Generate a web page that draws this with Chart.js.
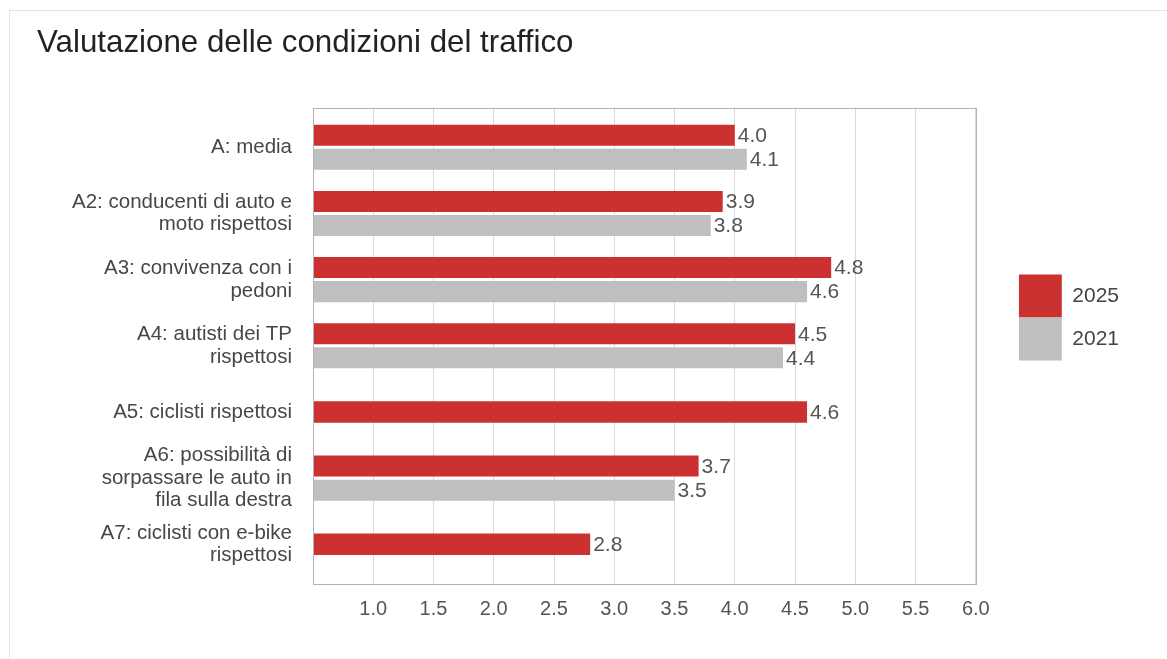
<!DOCTYPE html>
<html>
<head>
<meta charset="utf-8">
<script src="https://cdn.jsdelivr.net/npm/chart.js@4.4.1/dist/chart.umd.min.js"></script>
<style>
  html, body { margin: 0; padding: 0; background: #fff; }
  #wrap { position: relative; width: 1167px; height: 659px; overflow: hidden; }
  #frame { position: absolute; left: 9px; top: 10px; right: -5px; bottom: -5px;
           border-left: 1px solid #e4e4e4; border-top: 1px solid #e4e4e4; }
  canvas { position: absolute; left: 0; top: 0; }
</style>
</head>
<body>
<div id="wrap">
  <div id="frame"></div>
  <canvas id="chart"></canvas>
</div>
<script>
// categories, one array of lines per label
const categories = [
  ['A: media'],
  ['A2: conducenti di auto e', 'moto rispettosi'],
  ['A3: convivenza con i', 'pedoni'],
  ['A4: autisti dei TP', 'rispettosi'],
  ['A5: ciclisti rispettosi'],
  ['A6: possibilità di', 'sorpassare le auto in', 'fila sulla destra'],
  ['A7: ciclisti con e-bike', 'rispettosi']
];
const values2025 = [4.0, 3.9, 4.8, 4.5, 4.6, 3.7, 2.8];
const values2021 = [4.1, 3.8, 4.6, 4.4, null, 3.5, null];
const seriesLabels = ['2025', '2021'];

const FONT = "'Liberation Sans', Arial, Helvetica, sans-serif";

// draw value next to the end of each bar
const valueLabels = {
  id: 'valueLabels',
  afterDatasetsDraw(chart) {
    const ctx = chart.ctx;
    ctx.save();
    ctx.font = '21px ' + FONT;
    ctx.fillStyle = '#555555';
    ctx.textAlign = 'left';
    ctx.textBaseline = 'middle';
    chart.data.datasets.forEach((ds, i) => {
      const meta = chart.getDatasetMeta(i);
      meta.data.forEach((bar, j) => {
        const v = ds.data[j].x;
        if (v === null || v === undefined) return;
        ctx.fillText(v.toFixed(1), bar.x + 3, bar.y + 1);
      });
    });
    ctx.restore();
  }
};

// grey box round the plot area
const plotFrame = {
  id: 'plotFrame',
  afterDatasetsDraw(chart) {
    const { ctx, chartArea: a } = chart;
    ctx.save();
    ctx.strokeStyle = '#b4b4b4';
    ctx.lineWidth = 1;
    ctx.strokeRect(Math.round(a.left) + 0.5, Math.round(a.top) + 0.5,
      Math.round(a.right - a.left), Math.round(a.bottom - a.top));
    ctx.restore();
  }
};

const ctx = document.getElementById('chart');
new Chart(ctx, {
  type: 'bar',
  data: {
    datasets: [
      {
        label: seriesLabels[0],
        data: values2025.map((v, i) => ({ x: v, y: i })),
        backgroundColor: '#cc3131',
        yAxisID: 'y'
      },
      {
        label: seriesLabels[1],
        data: values2021.map((v, i) => ({ x: v, y: i })),
        backgroundColor: '#bfbfbf',
        yAxisID: 'y'
      }
    ]
  },
  options: {
    indexAxis: 'y',
    responsive: true,
    maintainAspectRatio: false,
    animation: false,
    skipNull: true,
    categoryPercentage: 0.726,
    barPercentage: 0.875,
    maxBarThickness: 21.5,
    layout: { padding: { left: 37, top: 12, right: 38, bottom: 36 } },
    scales: {
      y: {
        type: 'linear',
        position: 'left',
        reverse: true,
        bounds: 'data',
        min: -0.6,
        max: 6.6,
        offset: false,
        grid: { display: false },
        border: { display: false },
        ticks: {
          autoSkip: false,
          padding: 13,
          color: '#474747',
          font: { family: FONT, size: 20.5, lineHeight: 1.1 },
          callback: (v) => Number.isInteger(v) && categories[v] ? categories[v] : ''
        },
        afterBuildTicks: (s) => { s.ticks = categories.map((c, i) => ({ value: i })); },
        afterFit: (s) => { s.width = 276; }
      },
      yR: {
        type: 'linear',
        position: 'right',
        grid: { display: false },
        border: { display: false },
        ticks: { display: false },
        afterFit: (s) => { s.width = 43; }
      },
      x: {
        type: 'linear',
        min: 0.5,
        max: 6.0,
        grid: { color: '#dadada', lineWidth: 1, drawTicks: false },
        border: { display: false },
        ticks: {
          stepSize: 0.5,
          padding: 13,
          color: '#555555',
          font: { family: FONT, size: 20 },
          callback: (v) => v === 0.5 ? '' : v.toFixed(1)
        },
        afterFit: (s) => { s.height = 39; }
      }
    },
    plugins: {
      title: {
        display: true,
        text: 'Valutazione delle condizioni del traffico',
        align: 'start',
        color: '#222222',
        font: { family: FONT, size: 31.3, weight: 'normal', lineHeight: 1.2 },
        padding: { top: 13, bottom: 45 }
      },
      legend: {
        position: 'right',
        align: 'center',
        labels: {
          boxWidth: 43,
          boxHeight: 43,
          padding: 0,
          color: '#444444',
          font: { family: FONT, size: 21 },
          generateLabels: (chart) =>
            Chart.defaults.plugins.legend.labels.generateLabels(chart)
              .map(l => ({ ...l, lineWidth: 0 }))
        }
      },
      tooltip: { enabled: false }
    }
  },
  plugins: [valueLabels, plotFrame]
});
</script>
</body>
</html>
